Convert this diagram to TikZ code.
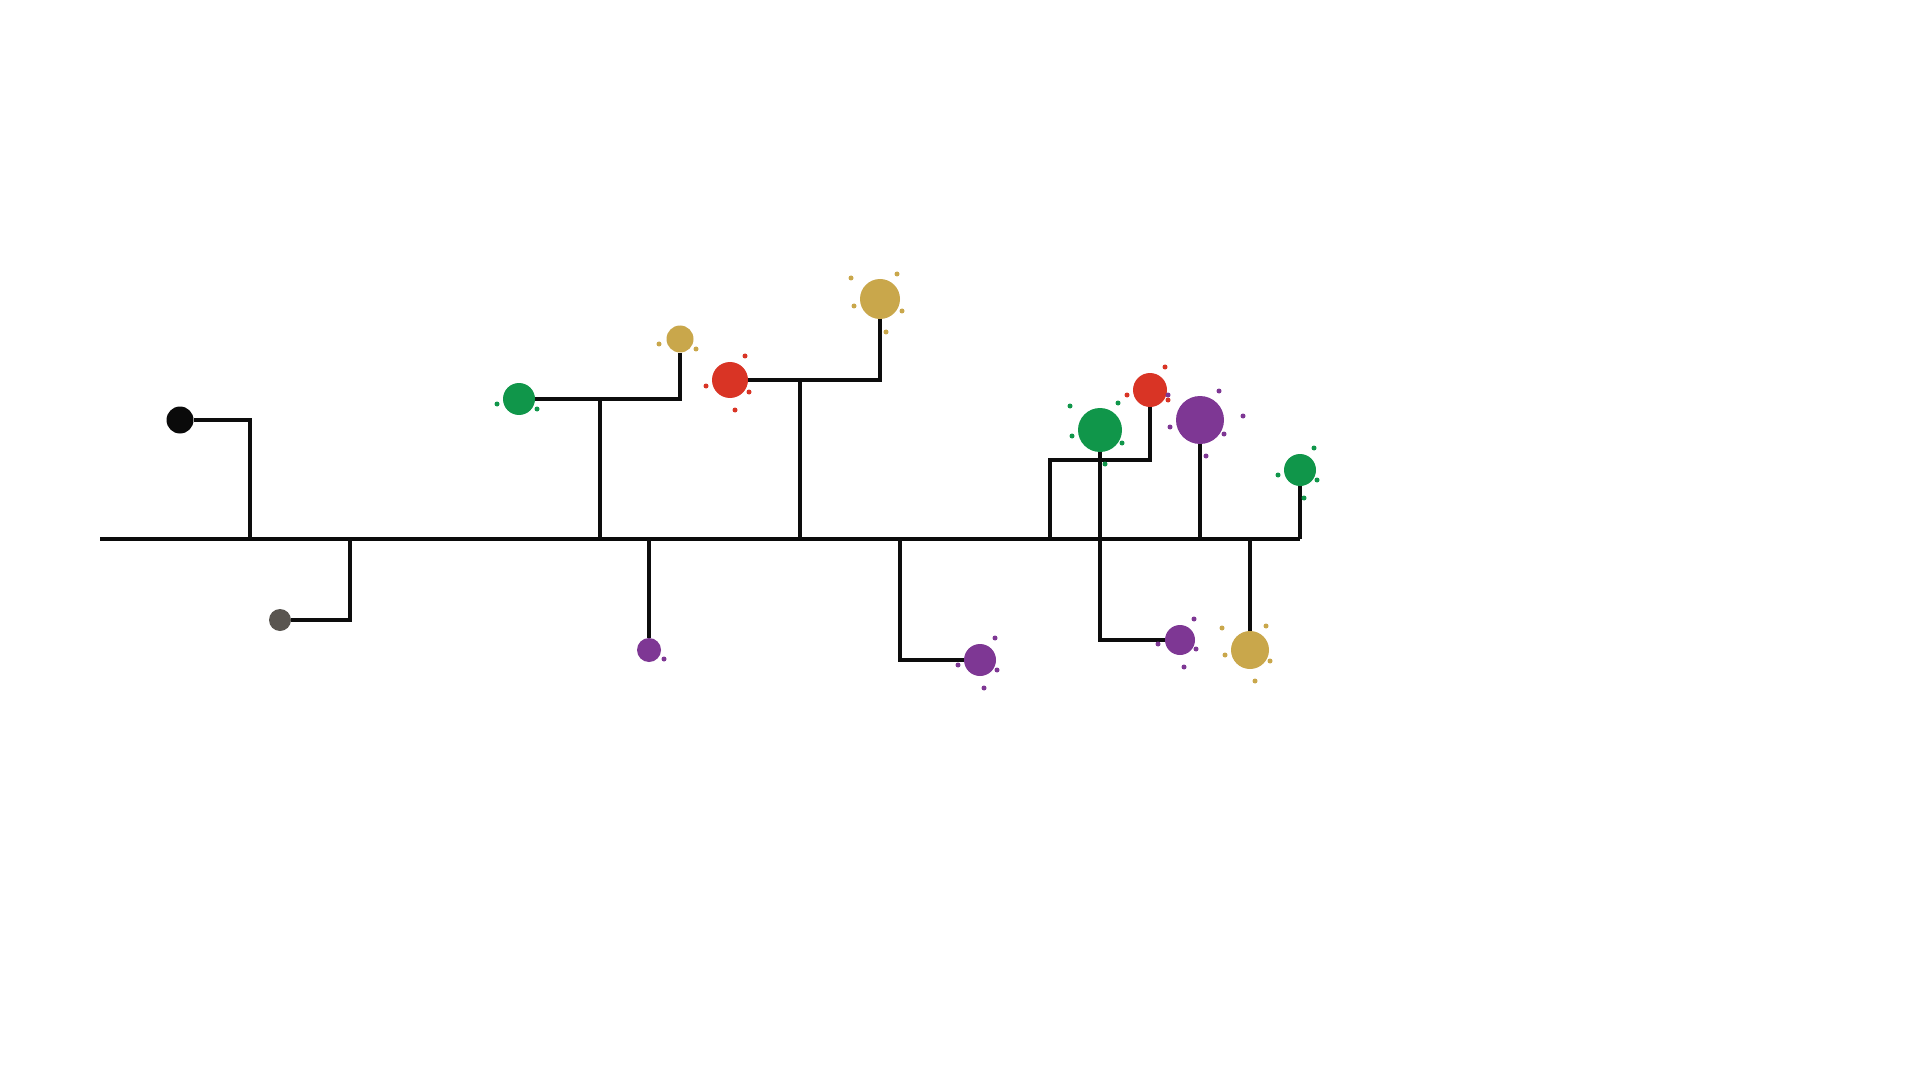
\documentclass[tikz,border=0pt]{standalone}
\begin{document}
\begin{tikzpicture}[x=0.5pt,y=-0.5pt,
  br/.style={line width=1.6pt,black!95},
  bub/.style={circle,inner sep=0pt,minimum size=#1},
  dot/.style={circle,fill,inner sep=0pt,minimum size=2.5pt}]
\definecolor{cg}{HTML}{10964A}\definecolor{cr}{HTML}{D93425}
\definecolor{cp}{HTML}{7E3794}\definecolor{cy}{HTML}{C9A74B}
\definecolor{ck}{HTML}{0A0A0A}\definecolor{cs}{HTML}{595550}
\useasboundingbox[fill=white] (0,0) rectangle (1920,1080);
% bubbles
\node[bub=13.5pt,fill=ck] (k) at (180,420) {};
\node[bub=11pt,fill=cs] (s) at (280,620) {};
\node[bub=16pt,fill=cg] (g1) at (519,399) {};
\node[bub=13.5pt,fill=cy] (y1) at (680,339) {};
\node[bub=12pt,fill=cp] (p1) at (649,650) {};
\node[bub=18pt,fill=cr] (r1) at (730,380) {};
\node[bub=20pt,fill=cy] (y2) at (880,299) {};
\node[bub=16pt,fill=cp] (p2) at (980,660) {};
\node[bub=22pt,fill=cg] (g2) at (1100,430) {};
\node[bub=17pt,fill=cr] (r2) at (1150,390) {};
\node[bub=24pt,fill=cp] (p3) at (1200,420) {};
\node[bub=16pt,fill=cg] (g3) at (1300,470) {};
\node[bub=15pt,fill=cp] (p4) at (1180,640) {};
\node[bub=19pt,fill=cy] (y3) at (1250,650) {};
% baseline
\coordinate (b0) at (100,539); \coordinate (b1) at (500,539);
\coordinate (b2) at (1000,539); \coordinate (b3) at (1300,539);
\draw[line width=2.4pt,ck] (b0) -- (b1);
\draw[line width=2pt,ck] (b1) -- (b2);
\draw[line width=1.8pt,ck] (b2) -- (b3);
% branches
\draw[br] (k) -- (250,420) -- (250,539);
\draw[br] (s) -- (350,620) -- (350,539);
\draw[br] (g1) -- (680,399) -- (y1);
\draw[br] (600,399) -- (600,539);
\draw[br] (649,539) -- (p1);
\draw[br] (r1) -- (880,380) -- (y2);
\draw[br] (800,380) -- (800,539);
\draw[br] (900,539) -- (900,660) -- (p2);
\draw[br] (1050,539) -- (1050,460) -- (1150,460) -- (r2);
\draw[br] (1100,539) -- (g2);
\draw[br] (1200,539) -- (p3);
\draw[br] (g3) -- (b3);
\draw[br] (1100,539) -- (1100,640) -- (p4);
\draw[br] (1250,539) -- (y3);
% speckles
\foreach \p in {(497,404),(537,409),(1070,406),(1072,436),(1118,403),(1122,443),(1105,464),(1314,448),(1278,475),(1317,480),(1304,498)} \node[dot,cg] at \p {};
\foreach \p in {(745,356),(706,386),(749,392),(735,410),(1165,367),(1127,395),(1168,400)} \node[dot,cr] at \p {};
\foreach \p in {(664,659),(995,638),(958,665),(997,670),(984,688),(1219,391),(1243,416),(1170,427),(1224,434),(1206,456),(1168,395),(1194,619),(1158,644),(1196,649),(1184,667)} \node[dot,cp] at \p {};
\foreach \p in {(659,344),(696,349),(851,278),(897,274),(854,306),(902,311),(886,332),(1222,628),(1266,626),(1225,655),(1270,661),(1255,681)} \node[dot,cy] at \p {};
\end{tikzpicture}
\end{document}
